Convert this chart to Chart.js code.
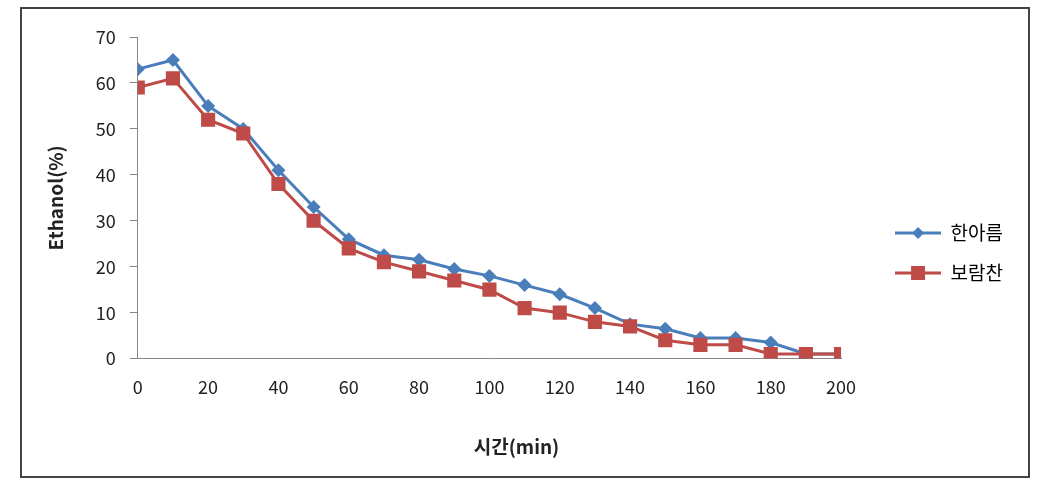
<!DOCTYPE html>
<html>
<head>
<meta charset="utf-8">
<script src="https://cdn.jsdelivr.net/npm/chart.js@4.4.0/dist/chart.umd.min.js"></script>
<style>
  html, body { margin: 0; padding: 0; background: #fff; }
</style>
</head>
<body>
<canvas id="chart" width="1060" height="489"></canvas>
<script>
// 시간(min)
const times = [0, 10, 20, 30, 40, 50, 60, 70, 80, 90, 100, 110, 120, 130, 140, 150, 160, 170, 180, 190, 200];
// Ethanol(%)
const hanareum = [63, 65, 55, 50, 41, 33, 26, 22.5, 21.5, 19.5, 18, 16, 14, 11, 7.5, 6.5, 4.5, 4.5, 3.5, 1, 1];
const boramchan = [59, 61, 52, 49, 38, 30, 24, 21, 19, 17, 15, 11, 10, 8, 7, 4, 3, 3, 1, 1, 1];
const seriesNames = ["한아름", "보람찬"];
const xTitle = "시간(min)";
const yTitle = "Ethanol(%)";

const blue = "#4a7ebb";
const red = "#be4b48";
const axisGrey = "#868686";
const textColor = "#222";
const fontFamily = "'Noto Sans CJK KR', 'Noto Sans', sans-serif";

// small line + marker picture for the legend
function legendIcon(color, shape) {
  const c = document.createElement("canvas");
  c.width = 46;
  c.height = 20;
  const g = c.getContext("2d");
  g.strokeStyle = color;
  g.lineWidth = 3;
  g.beginPath();
  g.moveTo(0, 10);
  g.lineTo(46, 10);
  g.stroke();
  g.fillStyle = color;
  g.beginPath();
  if (shape === "diamond") {
    g.moveTo(23, 4); g.lineTo(29, 10); g.lineTo(23, 16); g.lineTo(17, 10);
  } else {
    g.rect(16, 3, 14, 14);
  }
  g.closePath();
  g.fill();
  return c;
}

const frame = {
  id: "frame",
  beforeDraw(chart) {
    const c = chart.ctx;
    c.save();
    c.fillStyle = "#fff";
    c.fillRect(0, 0, chart.width, chart.height);
    c.strokeStyle = "#444";
    c.lineWidth = 2;
    c.strokeRect(21, 8, 1008, 469);
    c.restore();
  }
};

const ctx = document.getElementById("chart").getContext("2d");
const icons = [legendIcon(blue, "diamond"), legendIcon(red, "square")];

new Chart(ctx, {
  type: "line",
  data: {
    datasets: [
      {
        label: seriesNames[0],
        data: times.map((t, i) => ({ x: t, y: hanareum[i] })),
        borderColor: blue,
        backgroundColor: blue,
        borderWidth: 3,
        pointStyle: "rectRot",
        pointRadius: 7,
        pointBorderWidth: 0,
        tension: 0,
        order: 1
      },
      {
        label: seriesNames[1],
        data: times.map((t, i) => ({ x: t, y: boramchan[i] })),
        borderColor: red,
        backgroundColor: red,
        borderWidth: 3,
        pointStyle: "rect",
        pointRadius: 10,
        pointBorderWidth: 0,
        tension: 0,
        order: 0
      }
    ]
  },
  options: {
    responsive: false,
    animation: false,
    layout: { padding: { left: 20, right: 47, top: 37, bottom: 20 } },
    scales: {
      x: {
        type: "linear",
        min: 0,
        max: 200,
        ticks: { stepSize: 20, padding: 18, color: textColor, font: { family: fontFamily, size: 18 } },
        grid: { display: false, drawTicks: false },
        border: { color: axisGrey, width: 1 }
      },
      y: {
        min: 0,
        max: 70,
        ticks: { stepSize: 10, padding: 14, color: textColor, font: { family: fontFamily, size: 18 } },
        grid: { drawOnChartArea: false, drawTicks: true, tickLength: 8, color: axisGrey },
        border: { color: axisGrey, width: 1 },
        title: {
          display: true,
          text: yTitle,
          color: textColor,
          font: { family: fontFamily, size: 19, weight: "bold" },
          padding: { top: 24, bottom: 15 }
        }
      },
      // empty spacer between the plot and the legend
      gap: {
        position: "right",
        display: true,
        ticks: { display: false },
        grid: { display: false, drawTicks: false },
        border: { display: false },
        afterFit: (scale) => { scale.width = 33; }
      }
    },
    plugins: {
      legend: {
        position: "right",
        labels: {
          usePointStyle: true,
          pointStyleWidth: 46,
          padding: 21,
          color: "#333",
          font: { family: fontFamily, size: 19 },
          sort: (a, b) => a.datasetIndex - b.datasetIndex,
          generateLabels: (chart) => chart.data.datasets.map((ds, i) => ({
            text: ds.label,
            pointStyle: icons[i],
            fillStyle: ds.borderColor,
            strokeStyle: ds.borderColor,
            lineWidth: 0,
            hidden: false,
            datasetIndex: i
          }))
        }
      },
      title: {
        display: true,
        position: "bottom",
        text: xTitle,
        color: textColor,
        font: { family: fontFamily, size: 19, weight: "bold" },
        padding: { top: 19, bottom: 11 }
      },
      tooltip: { enabled: false }
    }
  },
  plugins: [frame]
});
</script>
</body>
</html>
